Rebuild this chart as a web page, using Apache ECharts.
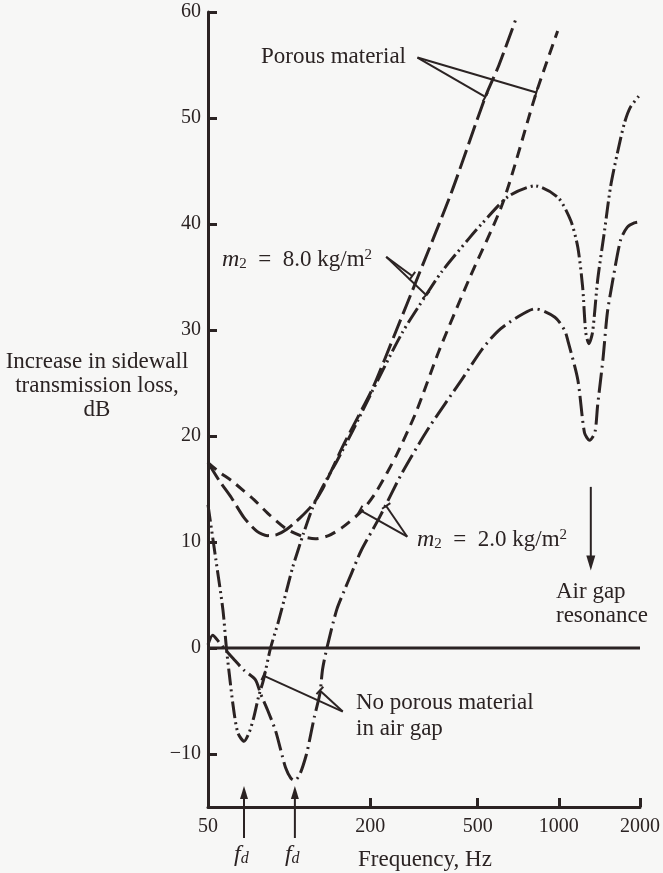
<!DOCTYPE html>
<html><head><meta charset="utf-8">
<script src="https://cdn.jsdelivr.net/npm/echarts@6/dist/echarts.min.js"></script>
<style>html,body{margin:0;padding:0;background:#f7f7f6}#c{width:663px;height:873px}</style>
</head><body><div id="c"></div>
<script>
// ---- data (frequency in Hz, increase in transmission loss in dB) ----
const xTickLabels = [50, 200, 500, 1000, 2000];
const xTickMarks = [200, 500, 1000, 2000];
const yTickValues = [-10, 0, 10, 20, 30, 40, 50, 60];

// Porous material, m2 = 8.0 kg/m2 (long dash)
const freqPorous8 = [50, 55, 61, 68, 76, 83, 90, 98, 109, 122, 133, 145, 160, 180, 204, 250, 300, 400, 534, 600, 690];
const lossPorous8 = [17.5, 15.8, 14.2, 12.3, 11.0, 10.6, 10.7, 11.2, 12.2, 13.5, 15.0, 17.0, 19.3, 21.8, 24.5, 30.0, 35.0, 43.0, 52.0, 55.0, 59.2];

// Porous material, m2 = 2.0 kg/m2 (short dash)
const freqPorous2 = [50, 55, 61, 68, 74, 85, 98, 113, 125, 140, 158, 187, 211, 250, 296, 359, 463, 620, 825, 990];
const lossPorous2 = [17.5, 16.6, 15.8, 14.8, 14.0, 12.5, 11.2, 10.5, 10.3, 10.6, 11.4, 13.0, 14.8, 18.2, 22.3, 28.0, 34.7, 42.0, 52.4, 58.2];

// No porous material, m2 = 8.0 kg/m2 (dash-dot-dot)
const freqBare8 = [50, 53.5, 56.8, 58.5, 60, 62, 64.5, 68, 71, 74, 77, 80.3, 85.3, 91, 98, 103, 113, 122, 133, 150, 172, 204, 262, 322, 368, 463, 517, 650, 817, 993, 1108, 1176, 1226, 1258, 1293, 1334, 1393, 1478, 1555, 1649, 1750, 1841, 2000];
const lossBare8 = [13.5, 8.3, 3.6, 0, -2.5, -5.5, -8.0, -8.8, -8.0, -6.5, -4.6, -3.0, 0, 2.4, 5.5, 7.6, 10.8, 13.2, 15.2, 17.6, 20.5, 24.3, 29.7, 33.3, 35.5, 38.6, 40.0, 42.6, 43.6, 42.5, 40.3, 37.8, 34.0, 29.8, 28.7, 29.8, 34.7, 39.4, 43.5, 46.7, 49.5, 51.0, 52.2];

// No porous material, m2 = 2.0 kg/m2 (dash-dot)
const freqBare2 = [50, 52, 54.8, 57.2, 62, 68, 75, 78.3, 83, 89, 93, 97, 101.5, 105, 110, 116, 119, 124, 130, 133, 138, 150, 160, 170, 185, 216, 262, 330, 436, 520, 595, 691, 817, 967, 1050, 1080, 1176, 1245, 1300, 1360, 1393, 1457, 1513, 1578, 1695, 1795, 1904, 2000];
const lossBare2 = [0.3, 1.2, 0.6, 0, -1.0, -2.1, -3.0, -4.3, -5.8, -7.8, -9.6, -11.3, -12.3, -12.5, -11.8, -10.0, -8.7, -6.5, -4.3, -2.0, 0, 3.6, 5.4, 7.0, 9.2, 12.3, 16.5, 20.8, 25.3, 28.2, 29.9, 31.1, 32.0, 31.2, 30.0, 29.0, 25.3, 20.3, 19.6, 20.3, 22.9, 27.2, 31.6, 34.4, 38.5, 39.7, 40.1, 40.2];

// Zero reference line
const zeroFreq = [50, 2000];
const zeroLoss = [0, 0];

// annotation anchors (frequency, dB)
const fdFreqs = [68, 105];
const airGapFreq = 1314;

// ---- chart ----
const INK = '#2b2323';
const FONT = 'Liberation Serif';
const pts = (f, l) => f.map((v, i) => [v, l[i]]);

const chart = echarts.init(document.getElementById('c'), null, {renderer: 'canvas'});

function curve(name, f, l, dash) {
  return {
    name, type: 'line', data: pts(f, l), smooth: 0.25, symbol: 'none', silent: true,
    xAxisIndex: 0, yAxisIndex: 0,
    lineStyle: {color: INK, width: 3, type: dash, cap: 'butt', join: 'round'}
  };
}

const option = {
  animation: false,
  backgroundColor: '#f7f7f6',
  grid: {left: 208, right: 20, top: 12, bottom: 66, containLabel: false},
  xAxis: [
    {type: 'log', logBase: 10, min: 50, max: 2000, show: false},
    {
      type: 'value', min: Math.log10(50), max: Math.log10(2000), position: 'bottom',
      axisLine: {show: true, lineStyle: {color: INK, width: 3}},
      axisTick: {show: true, inside: true, length: 9, lineStyle: {color: INK, width: 3},
                 customValues: xTickMarks.map(v => Math.log10(v))},
      axisLabel: {show: true, margin: 10, color: INK, fontFamily: FONT, fontSize: 20,
                  customValues: xTickLabels.map(v => Math.log10(v)),
                  formatter: v => String(Math.round(Math.pow(10, v)))},
      splitLine: {show: false}
    }
  ],
  yAxis: {
    type: 'value', min: -15, max: 60,
    axisLine: {show: true, lineStyle: {color: INK, width: 3}},
    axisTick: {show: true, inside: true, length: 9, lineStyle: {color: INK, width: 3}, customValues: yTickValues},
    axisLabel: {show: true, margin: 7, color: INK, fontFamily: FONT, fontSize: 20, customValues: yTickValues,
                formatter: v => v < 0 ? '\u2212' + (-v) : String(v)},
    splitLine: {show: false}
  },
  series: [
    {name: 'zero', type: 'line', data: pts(zeroFreq, zeroLoss), symbol: 'none', silent: true,
     xAxisIndex: 0, yAxisIndex: 0, lineStyle: {color: INK, width: 3}},
    curve('Porous, m2=8', freqPorous8, lossPorous8, [20, 6]),
    curve('Porous, m2=2', freqPorous2, lossPorous2, [11, 7]),
    curve('No porous, m2=8', freqBare8, lossBare8, [17, 4, 2, 4, 2, 4]),
    curve('No porous, m2=2', freqBare2, lossBare2, [20, 5, 2, 5])
  ]
};
chart.setOption(option);

// ---- annotations ----
const P = (f, v) => chart.convertToPixel({seriesIndex: 1}, [f, v]);
const g = [];
function line(a, b, w) { g.push({type: 'line', shape: {x1: a[0], y1: a[1], x2: b[0], y2: b[1]}, style: {stroke: INK, lineWidth: w || 2}}); }
function pointer(o, e) {
  line(o, e);
  const dx = e[0] - o[0], dy = e[1] - o[1], L = Math.hypot(dx, dy);
  const nx = -dy / L * 5, ny = dx / L * 5;
  line([e[0] - nx, e[1] - ny], [e[0] + nx, e[1] + ny]);
}
function text(x, y, t, opts) {
  g.push({type: 'text', x, y, style: Object.assign({
    text: t, fill: INK, fontFamily: FONT, fontSize: 23,
    align: 'left', verticalAlign: 'middle', textAlign: 'left', textVerticalAlign: 'middle'
  }, opts || {})});
}
const mRich = {
  i: {fontStyle: 'italic', fontSize: 24, fontFamily: FONT, color: INK},
  s: {fontSize: 15, fontFamily: FONT, color: INK, verticalAlign: 'bottom'},
  p: {fontSize: 15, fontFamily: FONT, color: INK, verticalAlign: 'top'},
  n: {fontSize: 23, fontFamily: FONT, color: INK}
};
const mText = v => '{i|m}{s|2}{n|\u2002=\u2002' + v + ' kg/m}{p|2}';

// Porous material pointers
const oPor = P(299, 55.7);
pointer(oPor, P(534, 52.0));
pointer(oPor, P(825, 52.4));
text(261, 57, 'Porous material');

// m2 = 8.0
const o8 = P(229, 36.9);
pointer(o8, P(286, 35.1));
pointer(o8, P(322, 33.3));
text(222, 260, mText('8.0'), {rich: mRich});

// m2 = 2.0
const o2 = P(274, 10.5);
pointer(o2, P(183, 13.0));
pointer(o2, P(229, 13.4));
text(417, 540, mText('2.0'), {rich: mRich});

// No porous material
const oNo = P(158, -6.0);
pointer(oNo, P(80.3, -2.6));
pointer(oNo, P(130, -4.0));
text(356, 716, 'No porous material\nin air gap', {lineHeight: 26});

// Air gap resonance arrow
const agTop = P(airGapFreq, 15.2), agTip = P(airGapFreq, 7.3);
line(agTop, [agTip[0], agTip[1] - 10], 2);
g.push({type: 'polygon', shape: {points: [[agTip[0], agTip[1]], [agTip[0] - 4.5, agTip[1] - 15], [agTip[0] + 4.5, agTip[1] - 15]]}, style: {fill: INK}});
text(556, 604, 'Air gap\nresonance', {lineHeight: 24});

// f_d arrows
const yBottom = P(50, -15)[1];
fdFreqs.forEach(f => {
  const x = P(f, 0)[0];
  const tip = yBottom - 21;
  line([x, yBottom + 31], [x, tip + 8], 2);
  g.push({type: 'polygon', shape: {points: [[x, tip], [x - 4, tip + 13], [x + 4, tip + 13]]}, style: {fill: INK}});
  text(x - 10, yBottom + 48, '{i|f}{s|d}', {rich: {
    i: {fontStyle: 'italic', fontSize: 24, fontFamily: FONT, color: INK},
    s: {fontStyle: 'italic', fontSize: 16, fontFamily: FONT, color: INK, verticalAlign: 'bottom'}
  }});
});

// axis titles
text(358, 860, 'Frequency, Hz');
text(97, 386, 'Increase in sidewall\ntransmission loss,\ndB', {align: 'center', textAlign: 'center', lineHeight: 24});

chart.setOption({graphic: {elements: g}});
</script>
</body></html>
